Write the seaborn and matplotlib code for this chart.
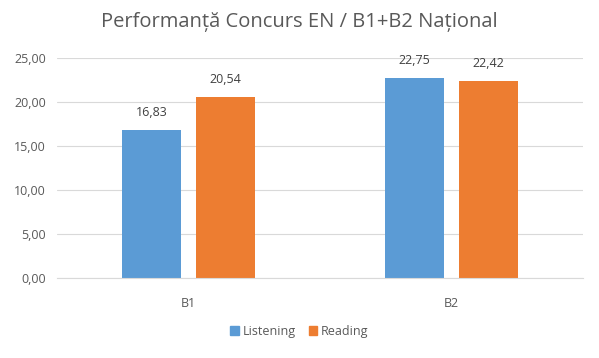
import pandas as pd
import matplotlib.pyplot as plt
import seaborn as sns

# date din grafic
niveluri = ['B1', 'B2']
listening = [16.83, 22.75]
reading = [20.54, 22.42]
probe = ['Listening', 'Reading']
culori = ['#5B9BD5', '#ED7D31']

df = pd.DataFrame({
    'Nivel': niveluri * 2,
    'Proba': [probe[0]] * 2 + [probe[1]] * 2,
    'Scor': listening + reading,
})

sns.set_style('white')
plt.rcParams['font.family'] = ['Open Sans', 'DejaVu Sans']

fig = plt.figure(figsize=(5.99, 3.58), dpi=100)
ax = fig.add_axes([57 / 599, 1 - 278 / 358, (583 - 57) / 599, (278 - 58) / 358])

sns.barplot(data=df, x='Nivel', y='Scor', hue='Proba', palette=culori,
            width=0.565, gap=0.2, ax=ax, legend=False, saturation=1, linewidth=0)

gri = '#595959'
ax.set_ylim(0, 25)
ax.set_yticks([0, 5, 10, 15, 20, 25])
ax.set_yticklabels([f'{v:.2f}'.replace('.', ',') for v in ax.get_yticks()],
                   fontsize=9, color=gri)
ax.tick_params(axis='x', labelsize=9, colors=gri, length=0, pad=14)
ax.tick_params(axis='y', length=0, pad=8)
ax.yaxis.grid(True, color='#D9D9D9', linewidth=0.8)
ax.set_axisbelow(True)
for s in ['top', 'right', 'left']:
    ax.spines[s].set_visible(False)
ax.spines['bottom'].set_color('#D9D9D9')
ax.set_xlabel('')
ax.set_ylabel('')

for cont in ax.containers:
    ax.bar_label(cont, labels=[f'{v:.2f}'.replace('.', ',') for v in cont.datavalues],
                 padding=8, fontsize=9, color='#404040')

fig.text(0.5, 1 - 22 / 358, 'Performanță Concurs EN / B1+B2 Național',
         ha='center', va='center', fontsize=14.5, color=gri)

# legenda
from matplotlib.patches import Patch
handles = [Patch(color=c, label=p) for c, p in zip(culori, probe)]
fig.legend(handles=handles, loc='center', bbox_to_anchor=(0.5, 1 - 331 / 358),
           ncol=2, frameon=False, fontsize=9, handlelength=0.7, handleheight=0.7,
           handletextpad=0.3, columnspacing=1.0, labelcolor=gri)

fig.savefig('out.png', dpi=100)
